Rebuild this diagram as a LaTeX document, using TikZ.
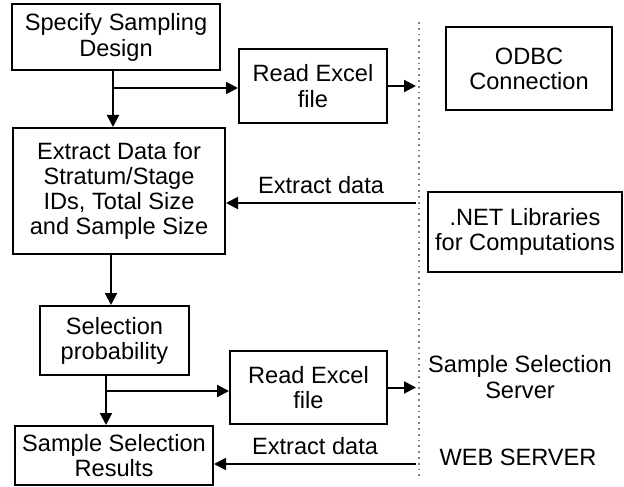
\documentclass[tikz,border=0pt]{standalone}
\usepackage{fontspec}
\setmainfont{Liberation Sans}
\usetikzlibrary{arrows.meta}

\begin{document}
\begin{tikzpicture}[x=0.5pt, y=-0.5pt,
	box/.style={draw, line width=1pt, align=center, inner sep=0pt, font=\fontsize{11.8}{12.6}\selectfont},
	arr/.style={line width=1pt, -{Triangle[length=6pt, width=6pt]}},
	lbl/.style={align=center, font=\fontsize{11.8}{12.6}\selectfont}]
			\useasboundingbox (0,0) rectangle (624,486);
			
			\node[box, minimum width=104pt, minimum height=33pt] (spec) at (116,37.5) {Specify Sampling\\Design};
			\node[box, minimum width=74pt, minimum height=37pt] (read1) at (313,86) {Read Excel\\file};
			\node[box, minimum width=83pt, minimum height=41.5pt] (odbc) at (529,68.5) {ODBC\\Connection};
			\node[box, minimum width=106pt, minimum height=63pt] (extr) at (119,191) {Extract Data for\\Stratum/Stage\\IDs, Total Size\\and Sample Size};
			\node[box, minimum width=97pt, minimum height=40pt] (net) at (525,232) {.NET Libraries\\for Computations};
			\node[box, minimum width=74.5pt, minimum height=34.5pt] (sel) at (114.5,340.5) {Selection\\probability};
			\node[box, minimum width=78.5pt, minimum height=36.5pt] (read2) at (308.5,387.5) {Read Excel\\file};
			\node[box, minimum width=99pt, minimum height=29.5pt] (res) at (114,455.5) {Sample Selection\\Results};
			\node[lbl] (server) at (520,377) {Sample Selection\\Server};
			\node[lbl] (web) at (518,457) {WEB SERVER};
			
			% dotted divider
			\coordinate (septop) at (419,22);
			\coordinate (sepbot) at (419,478);
			\draw[gray, dotted, line width=0.9pt] (septop) -- (sepbot);
			
			\coordinate (br1) at (113,88);
			\draw[arr] (br1 |- spec.south) -- (br1 |- extr.north);
			\draw[arr] (br1) -- (br1 -| read1.west);
			\draw[arr] (read1.east) -- ([xshift=-1.5pt]read1.east -| septop);
			
			\coordinate (ext1) at (416,203);
			\draw[arr] (ext1) -- (ext1 -| extr.east) node[midway, above=1pt, lbl] {Extract data};
			
			\draw[arr] (111,0 |- extr.south) -- (111,0 |- sel.north);
			
			\coordinate (br2) at (106,391);
			\draw[arr] (br2 |- sel.south) -- (br2 |- res.north);
			\draw[arr] (br2) -- (br2 -| read2.west);
			\draw[arr] (read2.east) -- ([xshift=-1.5pt]read2.east -| septop);
			
			\coordinate (ext2) at (416,464);
			\draw[arr] (ext2) -- (ext2 -| res.east) node[midway, above=1pt, lbl] {Extract data};
		\end{tikzpicture}
\end{document}
